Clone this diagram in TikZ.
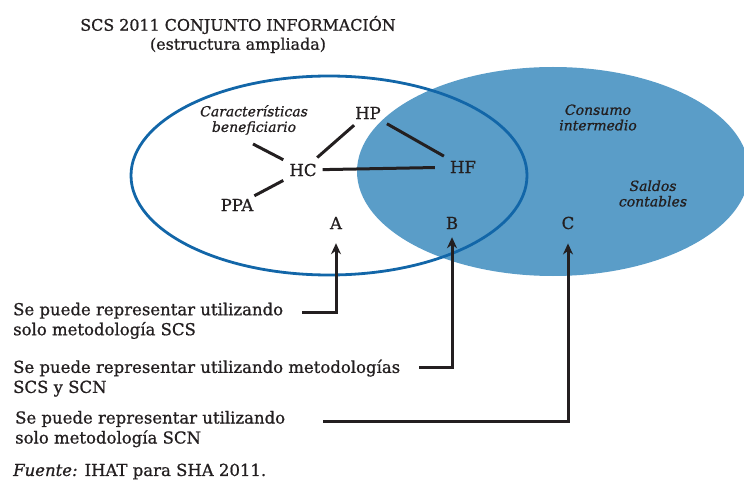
\documentclass[tikz,border=0pt]{standalone}
\usepackage{fontspec}
\setmainfont{DejaVu Serif}[FakeBold=0.9]
\usetikzlibrary{arrows.meta,calc,positioning}
\definecolor{venn}{RGB}{90,157,200}
\definecolor{rim}{RGB}{18,102,168}
\definecolor{ink}{RGB}{35,31,32}
\tikzset{
    lbl/.style={text=ink, inner sep=6pt, font=\fontsize{16.5}{20}\selectfont},
    tag/.style={text=ink, inner sep=0pt, align=center, font=\fontsize{14}{15.5}\selectfont\itshape},
    note/.style={text=ink, inner sep=0pt, align=left, anchor=north west, font=\fontsize{16.5}{20}\selectfont},
    link/.style={ink, line width=3pt},
    pointer/.style={ink, line width=3pt, -{Stealth[length=11pt,width=10pt]}}
}

\begin{document}
\begin{tikzpicture}[x=1pt,y=-1pt]
    \useasboundingbox (0,0) rectangle (744,481);

    % Draw the two sets.
    \fill[venn] (553,171.5) ellipse [x radius=196, y radius=104.5];
    \draw[rim, line width=2.8pt] (329,175.5) ellipse [x radius=198, y radius=99.5];

    % Title.
    \node[text=ink, inner sep=0pt, align=center, font=\fontsize{15.9}{19}\selectfont] (title) at (238,34.5)
        {SCS 2011 CONJUNTO INFORMACIÓN\\(estructura ampliada)};

    % Draw the units and their links.
    \node[lbl] (HC) at (303,170) {HC};
    \node[lbl] (HP) at (368,113) {HP};
    \node[lbl] (HF) at (463,167) {HF};
    \node[lbl, inner sep=3pt] (PPA) at (237,205) {PPA};
    \node[tag] (car) at (254,120) {Características\\beneficiario};
    \node[tag] (cons) at (598,117.5) {Consumo\\intermedio};
    \node[tag] (sal) at (653,193.5) {Saldos\\contables};

    \draw[link] ($(car.south)+(-1,9)$) -- (HC);
    \draw[link] (HC) -- (HP);
    \draw[link] (HC) -- (PPA);
    \draw[link, shorten >=9pt] (HC) -- (HF);
    \draw[link] (HP) -- (HF);

    % Areas.
    \foreach \s/\x in {A/336,B/452,C/568}
        \node[lbl, inner sep=0pt] (\s) at (\x,223) {\s};

    % Notes and their arrows.
    \node[note] (scs) at (13,302.5) {Se puede representar utilizando\\solo metodología SCS};
    \node[note] (both) at (13,359.5) {Se puede representar utilizando metodologías\\SCS y SCN};
    \node[note] (scn) at (15,410.8) {Se puede representar utilizando\\solo metodología SCN};
    \node[note] (src) at (13,463.5) {\textit{Fuente:} IHAT para SHA 2011.};

    \coordinate (s1) at (302,312);
    \coordinate (s2) at (419,367);
    \coordinate (s3) at (323,421);

    \draw[pointer, shorten >=14pt] (s1) -| (A);
    \draw[pointer, shorten >=8pt] (s2) -| (B);
    \draw[pointer, shorten >=14pt] (s3) -| (C);
\end{tikzpicture}
\end{document}
